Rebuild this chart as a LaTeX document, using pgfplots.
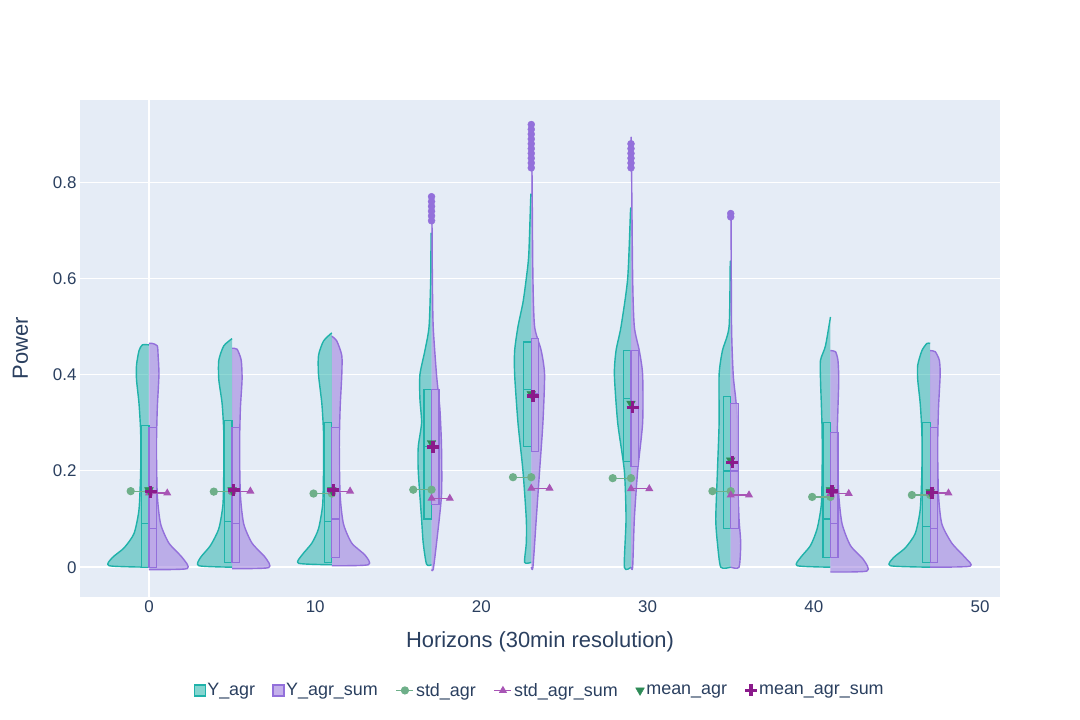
\documentclass[border=0pt]{standalone}
\usepackage{pgfplots}
\pgfplotsset{compat=1.18}
\usepackage{fontspec}
\setmainfont{Liberation Sans}
\definecolor{tealc}{HTML}{20B2AA}
\definecolor{purc}{HTML}{9370DB}
\definecolor{stdg}{HTML}{6EAF89}
\definecolor{stdp}{HTML}{A855B5}
\definecolor{meang}{HTML}{2E8B57}
\definecolor{meanp}{HTML}{8B1A8B}
\definecolor{bgc}{HTML}{E5ECF6}
\definecolor{txt}{HTML}{2A3F5F}
\pgfplotsset{
 tv/.style={draw=tealc, fill=tealc, fill opacity=0.5, draw opacity=1, line width=1.4bp, line join=round, smooth, tension=0.4},
 pv/.style={draw=purc, fill=purc, fill opacity=0.5, draw opacity=1, line width=1.4bp, line join=round, smooth, tension=0.4},
}
\newcommand{\hv}[4]{\addplot[#3, forget plot] table[header=false,row sep=\\, x expr={#1+#2*\thisrowno{0}}, y index=1]{#4};}
\newcommand{\qb}[6]{\addplot[draw=#6, fill=#6!60, fill opacity=0.8, line width=1.2bp, forget plot] coordinates {(#1,#3) ({#1+#2*0.45},#3) ({#1+#2*0.45},#4) (#1,#4)} -- cycle;
\addplot[draw=#6, line width=1.2bp, forget plot] coordinates {(#1,#5) ({#1+#2*0.45},#5)};}
\begin{document}
\begin{tikzpicture}
\begin{axis}[
 scale only axis, width=920bp, height=497bp,
 xmin=-4.15, xmax=51.2, ymin=-0.062, ymax=0.971,
 axis background/.style={fill=bgc}, axis line style={draw=none},
 tick style={draw=none},
 xtick={0,10,20,30,40,50}, ytick={0,0.2,0.4,0.6,0.8},
 yticklabels={0,0.2,0.4,0.6,0.8},
 ymajorgrids=true, xmajorgrids=false, major grid style={white, line width=1bp},
 /pgf/number format/assume math mode=true,
 ticklabel style={font=\fontsize{17}{20}\selectfont, text=txt},
 xlabel={Horizons (30min resolution)}, ylabel={Power},
 label style={font=\fontsize{22}{26}\selectfont, text=txt},
 xlabel style={yshift=-12bp}, ylabel style={yshift=18bp},
 unbounded coords=jump,
 legend style={at={(0.5,-0.165)}, anchor=north, draw=none, fill=none, legend columns=6,
   font=\fontsize{18}{22}\selectfont, text=txt, /tikz/every even column/.append style={column sep=16bp}},
 legend cell align=left,
 clip=false,
]
\addplot[white, line width=2bp, forget plot] coordinates {(0,-0.062) (0,0.971)};
\addplot[white, line width=2bp, forget plot] coordinates {(-4.15,0) (51.2,0)};
\hv{0}{-1}{tv}{0 0\\2.4 0.003\\2.2 0.02\\1.5 0.04\\0.9 0.07\\0.6 0.12\\0.5 0.2\\0.5 0.28\\0.6 0.34\\0.75 0.39\\0.75 0.42\\0.6 0.45\\0.4 0.462\\0 0.462\\}
\hv{0}{1}{pv}{0 -0.005\\2.3 -0.003\\2.0 0.02\\1.2 0.05\\0.7 0.09\\0.5 0.15\\0.45 0.25\\0.5 0.33\\0.6 0.4\\0.55 0.44\\0.5 0.46\\0.2 0.465\\0 0.465\\}
\hv{5}{-1}{tv}{0 0\\2.0 0.003\\1.9 0.02\\1.3 0.045\\0.8 0.08\\0.55 0.13\\0.5 0.2\\0.5 0.28\\0.6 0.34\\0.8 0.39\\0.8 0.43\\0.5 0.46\\0 0.475\\}
\hv{5}{1}{pv}{0 -0.003\\2.2 -0.001\\2.0 0.02\\1.2 0.05\\0.7 0.09\\0.5 0.15\\0.45 0.25\\0.5 0.33\\0.6 0.39\\0.55 0.43\\0.3 0.453\\0 0.455\\}
\hv{11}{-1}{tv}{0 0.005\\2.0 0.008\\1.8 0.025\\1.2 0.05\\0.8 0.08\\0.55 0.13\\0.5 0.2\\0.5 0.28\\0.6 0.34\\0.8 0.4\\0.8 0.44\\0.5 0.47\\0 0.487\\}
\hv{11}{1}{pv}{0 0.003\\2.2 0.005\\2.0 0.025\\1.2 0.05\\0.7 0.09\\0.5 0.15\\0.45 0.25\\0.5 0.33\\0.6 0.4\\0.6 0.44\\0.3 0.47\\0 0.48\\}
\hv{17}{-1}{tv}{0 0.005\\0.3 0.006\\0.5 0.05\\0.6 0.1\\0.8 0.2\\0.8 0.25\\0.6 0.3\\0.7 0.35\\0.7 0.4\\0.4 0.45\\0.15 0.5\\0.05 0.6\\0.03 0.69\\0 0.69\\}
\hv{17}{1}{pv}{0 -0.005\\0.1 -0.005\\0.3 0.05\\0.6 0.15\\0.6 0.25\\0.5 0.33\\0.3 0.4\\0.1 0.5\\0.05 0.6\\0.02 0.76\\0 0.76\\}
\hv{23}{-1}{tv}{0 0.01\\0.4 0.01\\0.3 0.05\\0.3 0.1\\0.5 0.2\\0.8 0.3\\1.0 0.4\\1.0 0.45\\0.8 0.5\\0.5 0.55\\0.3 0.6\\0.15 0.65\\0.03 0.77\\0 0.77\\}
\hv{23}{1}{pv}{0 0\\0.1 0\\0.3 0.1\\0.5 0.2\\0.7 0.3\\0.8 0.4\\0.6 0.45\\0.2 0.5\\0.1 0.6\\0.05 0.8\\0.02 0.92\\0 0.92\\}
\hv{29}{-1}{tv}{0 0\\0.4 0\\0.3 0.1\\0.4 0.2\\0.8 0.3\\1.0 0.4\\0.9 0.45\\0.6 0.5\\0.2 0.6\\0.03 0.74\\0 0.74\\}
\hv{29}{1}{pv}{0 0\\0.1 0\\0.2 0.1\\0.4 0.2\\0.7 0.3\\0.7 0.4\\0.5 0.45\\0.2 0.5\\0.1 0.6\\0.02 0.88\\0 0.88\\}
\hv{35}{-1}{tv}{0 0\\0.6 0\\0.8 0.05\\0.9 0.1\\0.8 0.2\\0.7 0.3\\0.7 0.4\\0.5 0.45\\0.1 0.5\\0.03 0.63\\0 0.63\\}
\hv{35}{1}{pv}{0 0\\0.5 0\\0.6 0.05\\0.5 0.1\\0.4 0.2\\0.4 0.3\\0.3 0.35\\0.15 0.4\\0.05 0.5\\0.02 0.73\\0 0.73\\}
\hv{41}{-1}{tv}{0 0\\2.0 0.003\\1.8 0.02\\1.2 0.045\\0.8 0.08\\0.55 0.13\\0.5 0.2\\0.5 0.28\\0.55 0.34\\0.6 0.39\\0.6 0.43\\0.3 0.46\\0 0.52\\}
\hv{41}{1}{pv}{0 -0.01\\2.2 -0.008\\2.0 0.015\\1.2 0.045\\0.7 0.09\\0.5 0.15\\0.4 0.25\\0.45 0.33\\0.5 0.39\\0.45 0.43\\0.3 0.448\\0 0.45\\}
\hv{47}{-1}{tv}{0 0\\2.4 0.003\\2.2 0.02\\1.5 0.04\\0.9 0.07\\0.6 0.12\\0.5 0.2\\0.5 0.28\\0.6 0.34\\0.75 0.39\\0.75 0.42\\0.5 0.45\\0.2 0.465\\0 0.465\\}
\hv{47}{1}{pv}{0 0\\2.4 0.002\\2.1 0.02\\1.3 0.05\\0.7 0.09\\0.5 0.15\\0.45 0.25\\0.5 0.33\\0.6 0.4\\0.55 0.43\\0.3 0.448\\0 0.45\\}
\qb{0}{-1}{0.0}{0.295}{0.09}{tealc}\qb{0}{1}{0.0}{0.29}{0.08}{purc}
\qb{5}{-1}{0.01}{0.305}{0.095}{tealc}\qb{5}{1}{0.01}{0.29}{0.09}{purc}
\qb{11}{-1}{0.01}{0.30}{0.095}{tealc}\qb{11}{1}{0.02}{0.29}{0.1}{purc}
\qb{17}{-1}{0.10}{0.37}{0.25}{tealc}\qb{17}{1}{0.13}{0.37}{0.25}{purc}
\qb{23}{-1}{0.25}{0.468}{0.37}{tealc}\qb{23}{1}{0.24}{0.475}{0.36}{purc}
\qb{29}{-1}{0.22}{0.45}{0.35}{tealc}\qb{29}{1}{0.21}{0.45}{0.33}{purc}
\qb{35}{-1}{0.08}{0.355}{0.2}{tealc}\qb{35}{1}{0.08}{0.34}{0.2}{purc}
\qb{41}{-1}{0.02}{0.30}{0.1}{tealc}\qb{41}{1}{0.02}{0.28}{0.09}{purc}
\qb{47}{-1}{0.01}{0.30}{0.085}{tealc}\qb{47}{1}{0.01}{0.29}{0.08}{purc}
\addplot[only marks, mark=*, mark size=3.5bp, color=purc, forget plot] coordinates {
(17,0.72)(17,0.73)(17,0.74)(17,0.75)(17,0.76)(17,0.77)
(23,0.83)(23,0.84)(23,0.85)(23,0.86)(23,0.87)(23,0.88)(23,0.89)(23,0.9)(23,0.91)(23,0.92)
(29,0.83)(29,0.84)(29,0.85)(29,0.86)(29,0.87)(29,0.88)
(35,0.728)(35,0.735)};
\addplot[stdg, line width=1.2bp, mark=*, mark size=3.5bp, forget plot] coordinates {
(-1.1,0.158)(0,0.158)(nan,nan)(3.9,0.157)(5,0.157)(nan,nan)(9.9,0.153)(11,0.153)(nan,nan)
(15.9,0.161)(17,0.161)(nan,nan)(21.9,0.187)(23,0.187)(nan,nan)(27.9,0.185)(29,0.185)(nan,nan)
(33.9,0.158)(35,0.158)(nan,nan)(39.9,0.146)(41,0.146)(nan,nan)(45.9,0.150)(47,0.150)};
\addplot[stdp, line width=1.2bp, mark=triangle*, mark size=3.5bp, forget plot] coordinates {
(0,0.154)(1.1,0.154)(nan,nan)(5,0.158)(6.1,0.158)(nan,nan)(11,0.158)(12.1,0.158)(nan,nan)
(17,0.143)(18.1,0.143)(nan,nan)(23,0.164)(24.1,0.164)(nan,nan)(29,0.163)(30.1,0.163)(nan,nan)
(35,0.150)(36.1,0.150)(nan,nan)(41,0.153)(42.1,0.153)(nan,nan)(47,0.154)(48.1,0.154)};
\addplot[only marks, mark=triangle*, mark options={rotate=180}, mark size=5bp, color=meang, forget plot] coordinates {
(0,0.16)(5,0.16)(11,0.16)(17,0.258)(23,0.36)(29,0.34)(35,0.222)(41,0.16)(47,0.156)};
\addplot[only marks, mark=+, mark size=6bp, line width=3.5bp, color=meanp, forget plot] coordinates {
(0.1,0.157)(5.1,0.16)(11.1,0.16)(17.1,0.25)(23.1,0.356)(29.1,0.332)(35.1,0.218)(41.1,0.158)(47.1,0.155)};
\addlegendimage{only marks, mark=square*, mark size=5.5bp, mark options={draw=tealc, fill=tealc!55, line width=1.4bp}}
\addlegendentry{Y\_agr}
\addlegendimage{only marks, mark=square*, mark size=5.5bp, mark options={draw=purc, fill=purc!55, line width=1.4bp}}
\addlegendentry{Y\_agr\_sum}
\addlegendimage{stdg, line width=1.2bp, mark=*, mark size=3.5bp}
\addlegendentry{std\_agr}
\addlegendimage{stdp, line width=1.2bp, mark=triangle*, mark size=3.5bp}
\addlegendentry{std\_agr\_sum}
\addlegendimage{only marks, mark=triangle*, mark options={rotate=180}, mark size=5bp, color=meang}
\addlegendentry{mean\_agr}
\addlegendimage{only marks, mark=+, mark size=6bp, line width=3.5bp, color=meanp}
\addlegendentry{mean\_agr\_sum}
\coordinate (SW) at (rel axis cs:0,0);
\coordinate (NE) at (rel axis cs:1,1);
\end{axis}
\path ([xshift=-80bp,yshift=-123bp]SW) rectangle ([xshift=80bp,yshift=100bp]NE);
\end{tikzpicture}
\end{document}
